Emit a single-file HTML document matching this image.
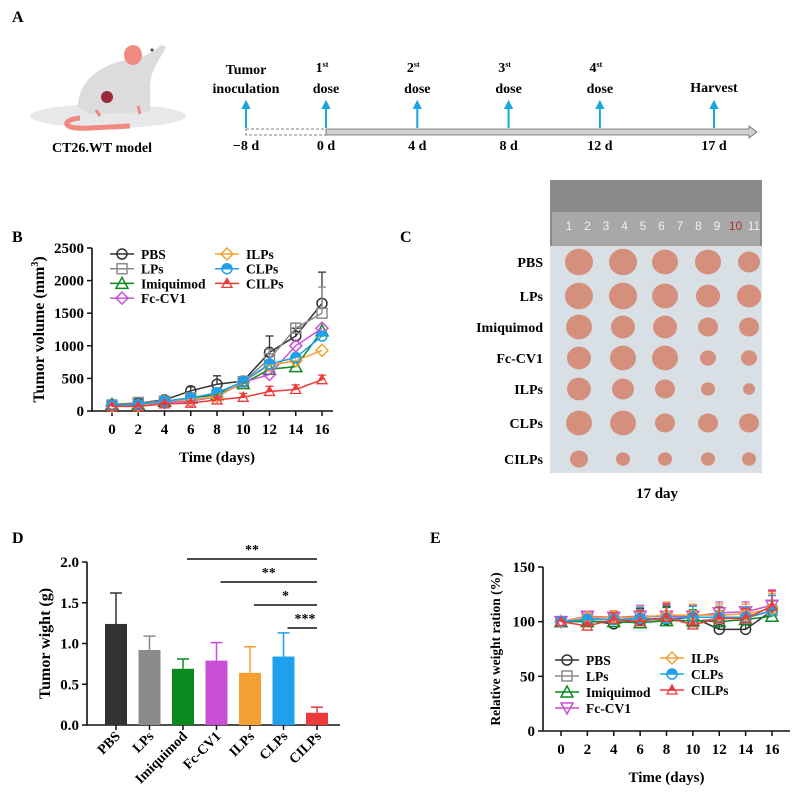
<!DOCTYPE html>
<html><head><meta charset="utf-8"><style>
html,body{margin:0;padding:0;background:#fff}
svg{display:block;font-family:"Liberation Serif",serif;font-weight:bold}
</style></head><body>
<svg id="fig" width="798" height="809" viewBox="0 0 798 809" xmlns="http://www.w3.org/2000/svg">
<g>
<text x="12" y="22" font-size="16">A</text>
<g>
<ellipse cx="108" cy="116" rx="78" ry="12" fill="#e6e8ea"/>
<path d="M80 118 C60 120 62 130 90 128 L130 126" stroke="#f08a80" stroke-width="5" fill="none"/>
<path d="M78 108 C78 75 110 60 140 58 C158 50 160 45 162 45 L166 47 C160 60 150 70 150 88 L150 112 L90 114 Z" fill="#dcdcdc"/>
<ellipse cx="133" cy="55" rx="9" ry="10" fill="#f08a80"/>
<circle cx="152" cy="50" r="1.5" fill="#444"/>
<circle cx="107" cy="97" r="6" fill="#9a2a3a"/>
<path d="M96 110 l4 6 M138 106 l2 8" stroke="#f08a80" stroke-width="3"/>
</g>
<text x="102" y="152" font-size="14" text-anchor="middle">CT26.WT model</text>
<g>
<rect x="246" y="129" width="80" height="6" fill="none" stroke="#555" stroke-dasharray="3,2" stroke-width="0.8"/>
<path d="M326 129 H749 V126 L757 132 L749 138 V135 H326 Z" fill="#cfcfcf" stroke="#666" stroke-width="0.8"/>
</g>
<g id="tl"></g>
</g>

<g>
<text x="12" y="242" font-size="16">B</text>
<g id="pb"></g>
</g>

<g>
<text x="400" y="242" font-size="16">C</text>
<rect x="550" y="180" width="212" height="293" fill="#d8dfe5"/>
<rect x="550" y="180" width="212" height="66" fill="#8a8a8a"/>
<rect x="552" y="212" width="208" height="34" fill="#a8a8a8"/>
<g id="pc"></g>
<text x="657" y="498" font-size="15" text-anchor="middle">17 day</text>
</g>

<g>
<text x="12" y="543" font-size="16">D</text>
<g id="pd"></g>
</g>

<g>
<text x="430" y="543" font-size="16">E</text>
<g id="pe"></g>
</g>
</svg>
<script>
// ---------- data ----------
const groups = ["PBS","LPs","Imiquimod","Fc-CV1","ILPs","CLPs","CILPs"];
const groupColors = ["#333333","#8a8a8a","#0a8a1f","#c94fd6","#f5a033","#1ea0ec","#ee3a3a"];
const days = [0,2,4,6,8,10,12,14,16];
const volPBS = [100,120,170,310,410,460,900,1150,1650];
const volLPs = [90,130,150,200,250,450,800,1270,1500];
const volImi = [100,100,150,200,250,420,640,680,1230];
const volFc = [80,90,130,150,220,440,560,1000,1270];
const volILPs = [70,80,150,170,220,450,700,770,930];
const volCLPs = [90,100,150,200,280,450,720,820,1150];
const volCILPs = [70,70,110,120,170,210,300,330,480];
const volErrPBS = [20,30,30,60,130,50,250,120,480];
const volErrLPs = [20,30,20,40,50,40,150,80,400];
const volErrCILPs = [10,10,20,30,40,60,80,70,70];
const volTicks = [0,500,1000,1500,2000,2500];
const weightMeans = [1.24,0.92,0.69,0.79,0.64,0.84,0.15];
const weightErrs = [0.38,0.17,0.12,0.22,0.32,0.29,0.07];
const weightTicks = [0.0,0.5,1.0,1.5,2.0];
const sigFrom = ["Imiquimod","Fc-CV1","ILPs","CLPs"];
const sigLabels = ["**","**","*","***"];
const relPBS = [100,101,98,102,102,104,93,93,110];
const relLPs = [100,103,102,101,103,100,103,103,110];
const relImi = [100,100,100,99,101,101,100,102,105];
const relFc = [100,105,104,105,105,105,108,109,115];
const relILPs = [100,104,104,104,106,106,106,107,112];
const relCLPs = [100,102,102,103,103,104,104,104,110];
const relCILPs = [100,96,102,100,104,97,103,103,114];
const relErr = [1,3,6,10,12,10,10,9,14];
const relTicks = [0,50,100,150];
const timelineDays = [-8,0,4,8,12,17];
const timelineTop = ["Tumor","1","2","3","4","Harvest"];
const timelineBottom = ["inoculation","dose","dose","dose","dose",""];

const NS="http://www.w3.org/2000/svg";
function mk(parent,tag,attrs,text){const e=document.createElementNS(NS,tag);for(const k in attrs)e.setAttribute(k,attrs[k]);if(text!==undefined)e.textContent=text;parent.appendChild(e);return e;}

// ---------- timeline ----------
const tl=document.getElementById('tl');
const tx=d=> d<0 ? 246 : 326 + d*(714-326)/17;
timelineDays.forEach((d,i)=>{
  const x=tx(d);
  const a=mk(tl,'path',{d:`M${x} 128 V106 M${x-3} 108 L${x} 102 L${x+3} 108 Z`,stroke:'#1aa7e0','stroke-width':2,fill:'#1aa7e0'});
  
  
  const lb=mk(tl,'text',{x:x,y:150,'font-size':14,'text-anchor':'middle'},(d<0?'\u22128':d)+' d');
  
  
  if(i===0||i===5){
    const t=mk(tl,'text',{x:x,y: i===0?74:92,'font-size':14,'text-anchor':'middle'},timelineTop[i]);
    
    
    if(timelineBottom[i]){const b=mk(tl,'text',{x:x,y:93,'font-size':14,'text-anchor':'middle'},timelineBottom[i]);
      
      }
  } else {
    const t=mk(tl,'text',{x:x-4,y:72,'font-size':14,'text-anchor':'middle'},timelineTop[i]);
    mk(t,'tspan',{'font-size':8,dy:-5},'st');
    
    
    const b=mk(tl,'text',{x:x,y:93,'font-size':14,'text-anchor':'middle'},'dose');
    
    
  }
});

// ---------- markers ----------
function marker(g,kind,x,y,c){
  const s=5;
  if(kind==='circle') return mk(g,'circle',{cx:x,cy:y,r:s,fill:'none',stroke:c,'stroke-width':1.5});
  if(kind==='square') return mk(g,'rect',{x:x-s,y:y-s,width:2*s,height:2*s,fill:'none',stroke:c,'stroke-width':1.5});
  if(kind==='tri') return mk(g,'path',{d:`M${x} ${y-s-1} L${x+s+1} ${y+s} L${x-s-1} ${y+s}Z`,fill:'none',stroke:c,'stroke-width':1.5});
  if(kind==='tridown') return mk(g,'path',{d:`M${x} ${y+s+1} L${x+s+1} ${y-s} L${x-s-1} ${y-s}Z`,fill:'none',stroke:c,'stroke-width':1.5});
  if(kind==='diamond') return mk(g,'path',{d:`M${x} ${y-s-1} L${x+s+1} ${y} L${x} ${y+s+1} L${x-s-1} ${y}Z`,fill:'none',stroke:c,'stroke-width':1.5});
  if(kind==='half') {const gg=mk(g,'g',{});mk(gg,'circle',{cx:x,cy:y,r:s,fill:'none',stroke:c,'stroke-width':1.5});mk(gg,'path',{d:`M${x-s} ${y} A${s} ${s} 0 0 1 ${x+s} ${y}Z`,fill:c});return gg;}
  if(kind==='trifill'){const gg=mk(g,'g',{});mk(gg,'path',{d:`M${x} ${y-s} L${x+s} ${y+s-1} L${x-s} ${y+s-1}Z`,fill:'none',stroke:c,'stroke-width':1.3});mk(gg,'path',{d:`M${x} ${y-s} L${x+s/2} ${y} L${x-s/2} ${y}Z`,fill:c});return gg;}
}

// ---------- line chart helper ----------
function lineChart(gid,o){
  const g=document.getElementById(gid);
  const X=d=>o.x0+(d-days[0])*(o.x1-o.x0)/(days[days.length-1]-days[0]);
  const Y=v=>o.y0-(v-o.vmin)*(o.y0-o.y1)/(o.vmax-o.vmin);
  const ax=mk(g,'path',{d:`M${o.ax} ${o.y1} V${o.y0} H${o.axEnd}`,stroke:'#111','stroke-width':1.6,fill:'none'});
  
  
  o.ticks.forEach(t=>{mk(g,'line',{x1:o.ax-5,x2:o.ax,y1:Y(t),y2:Y(t),stroke:'#111','stroke-width':1.5});
    const l=mk(g,'text',{x:o.ax-8,y:Y(t)+5,'font-size':15,'text-anchor':'end'},t);
    
    });
  days.forEach(d=>{mk(g,'line',{x1:X(d),x2:X(d),y1:o.y0,y2:o.y0+5,stroke:'#111','stroke-width':1.5});
    const l=mk(g,'text',{x:X(d),y:o.y0+23,'font-size':15,'text-anchor':'middle'},d);
    
    });
  const xt=mk(g,'text',{x:(o.x0+o.x1)/2,y:o.y0+51,'font-size':15,'text-anchor':'middle'},'Time (days)');
  
  
  const yt=mk(g,'text',{x:0,y:0,'font-size':o.ytSize,'text-anchor':'middle',transform:`translate(${o.ytX},${(o.y0+o.y1)/2}) rotate(-90)`},o.ytitle);
  if(o.sup) mk(yt,'tspan',{'font-size':10,dy:-6},'3'), mk(yt,'tspan',{dy:6},')');
  
  
  o.series.forEach((s,i)=>{
    const sg=mk(g,'g',{});
    
    
    const c=groupColors[i];
    s.vals.forEach((v,k)=>{ if(s.err){const e=s.err[k];
      mk(sg,'path',{d:`M${X(days[k])} ${Y(v)} V${Y(v+e)} M${X(days[k])-4} ${Y(v+e)} H${X(days[k])+4}`,stroke:c,'stroke-width':1.3,fill:'none'});}});
    mk(sg,'polyline',{points:s.vals.map((v,k)=>X(days[k])+','+Y(v)).join(' '),fill:'none',stroke:c,'stroke-width':1.5});
    s.vals.forEach((v,k)=>marker(sg,s.m,X(days[k]),Y(v),c));
  });
  o.series.forEach((s,i)=>{
    const col=i<o.leg.split?0:1, row=col?i-o.leg.split:i;
    const lx=o.leg.x[col], ly=o.leg.y[col]+row*o.leg.dy;
    const lg=mk(g,'g',{});
    
    
    mk(lg,'line',{x1:lx-12,x2:lx+12,y1:ly,y2:ly,stroke:groupColors[i],'stroke-width':1.5});
    marker(lg,s.m,lx,ly,groupColors[i]);
    mk(lg,'text',{x:lx+19,y:ly+5,'font-size':13.5},groups[i]);
  });
}

lineChart('pb',{x0:112,x1:322,y0:411,y1:248,vmin:0,vmax:2500,ax:92,axEnd:333,ticks:volTicks,
  ytitle:'Tumor volume (mm',sup:true,ytX:44,ytSize:16,
  leg:{split:4,x:[122,227],y:[254,254],dy:14.7},
  series:[{vals:volPBS,m:'circle',err:volErrPBS},{vals:volLPs,m:'square',err:volErrLPs},{vals:volImi,m:'tri'},
    {vals:volFc,m:'diamond'},{vals:volILPs,m:'diamond'},{vals:volCLPs,m:'half'},{vals:volCILPs,m:'trifill',err:volErrCILPs}]});
lineChart('pe',{x0:561,x1:772,y0:731,y1:567,vmin:0,vmax:150,ax:543,axEnd:790,ticks:relTicks,
  ytitle:'Relative weight ration (%)',sup:false,ytX:500,ytSize:13.5,
  leg:{split:4,x:[567,672],y:[660,658],dy:16},
  series:[{vals:relPBS,m:'circle',err:relErr},{vals:relLPs,m:'square',err:relErr},{vals:relImi,m:'tri',err:relErr},
    {vals:relFc,m:'tridown',err:relErr},{vals:relILPs,m:'diamond',err:relErr},{vals:relCLPs,m:'half',err:relErr},{vals:relCILPs,m:'trifill',err:relErr}]});

// ---------- panel C photo ----------
const pc=document.getElementById('pc');
for(let k=0;k<11;k++){const t=mk(pc,'text',{x:569+k*18.5,y:230,'font-size':12,fill:k===9?'#a33':'#eee','font-family':'Liberation Sans',"font-weight":'normal','text-anchor':'middle'},k+1);
   }
const rowsY=[262,296,327,358,389,423,459];
const colsX=[579,623,665,708,749];
const tumorR=[[14,14,13,13,11],[14,14,13,12,12],[13,12,12,10,10],[12,13,13,8,8],[12,11,10,7,6],[13,13,10,10,10],[9,7,7,7,7]];
groups.forEach((n,r)=>{
  const l=mk(pc,'text',{x:543,y:rowsY[r]+5,'font-size':14,'text-anchor':'end'},n);
  
  
  colsX.forEach((x,c)=>{const t=mk(pc,'ellipse',{cx:x,cy:rowsY[r],rx:tumorR[r][c],ry:tumorR[r][c]*0.95,fill:'#d4907c'});
     });
});

// ---------- panel D bars ----------
const pd=document.getElementById('pd');
const bx0=87,by0=725,by1=562,bstep=33.5,bfirst=116,bw=22;
const BY=v=>by0-v*(by0-by1)/2.0;
const BX=i=>bfirst+i*bstep;
const dax=mk(pd,'path',{d:`M${bx0} ${by1} V${by0} H340`,stroke:'#111','stroke-width':1.6,fill:'none'});
 
weightTicks.forEach(t=>{mk(pd,'line',{x1:bx0-5,x2:bx0,y1:BY(t),y2:BY(t),stroke:'#111','stroke-width':1.5});
  const l=mk(pd,'text',{x:bx0-8,y:BY(t)+5,'font-size':15,'text-anchor':'end'},t.toFixed(1));
   });
const dyt=mk(pd,'text',{x:0,y:0,'font-size':16,'text-anchor':'middle',transform:`translate(50,${(by0+by1)/2}) rotate(-90)`},'Tumor wight (g)');
 
weightMeans.forEach((v,i)=>{
  const c=groupColors[i], x=BX(i);
  mk(pd,'path',{d:`M${x} ${BY(v)} V${BY(v+weightErrs[i])} M${x-6} ${BY(v+weightErrs[i])} H${x+6}`,stroke:c,'stroke-width':1.5,fill:'none'});
  const b=mk(pd,'rect',{x:x-bw/2,y:BY(v),width:bw,height:by0-BY(v),fill:c});
   
  mk(pd,'line',{x1:x,x2:x,y1:by0,y2:by0+5,stroke:'#111','stroke-width':1.5});
  const l=mk(pd,'text',{x:0,y:0,'font-size':14,'text-anchor':'end',transform:`translate(${x+5},${by0+12}) rotate(-45)`},groups[i]);
   
});
sigFrom.forEach((n,k)=>{
  const i=groups.indexOf(n), y=559+k*23, x1=BX(i)+4, x2=BX(6);
  const ln=mk(pd,'line',{x1:x1,x2:x2,y1:y,y2:y,stroke:'#111','stroke-width':1.5});
   
  const t=mk(pd,'text',{x:k===3?x2-12:(x1+x2)/2,y:y-5,'font-size':14,'text-anchor':'middle'},sigLabels[k]);
   
});
</script>
</body></html>
